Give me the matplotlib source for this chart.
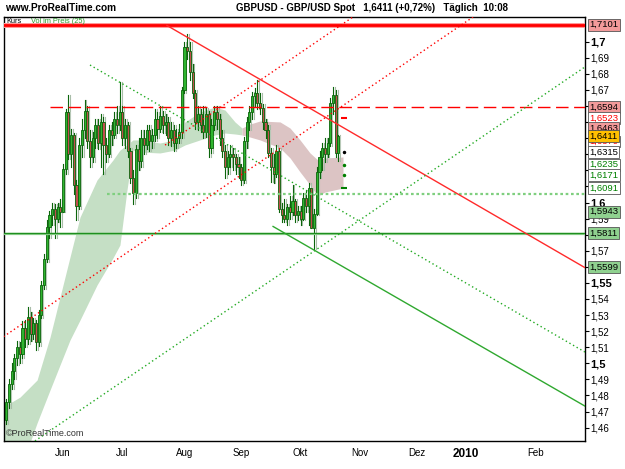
import numpy as np
import pandas as pd
import matplotlib
matplotlib.use('Agg')
import matplotlib.pyplot as plt
from matplotlib.patches import Rectangle

plt.rcParams['font.family'] = ['Liberation Sans', 'DejaVu Sans']

# daily GBPUSD candles, index 0 = 1 May 2009 (business days)
closes = [1.476, 1.487, 1.495, 1.503, 1.510, 1.506, 1.522, 1.515, 1.529, 1.518,
          1.525, 1.513, 1.530, 1.549, 1.565, 1.585, 1.592, 1.596, 1.590, 1.597,
          1.594, 1.621, 1.656, 1.630, 1.642, 1.611, 1.598, 1.636, 1.645, 1.657,
          1.638, 1.628, 1.640, 1.648, 1.637, 1.650, 1.636, 1.630, 1.645, 1.642,
          1.652, 1.648, 1.656, 1.640, 1.648, 1.632, 1.615, 1.606, 1.633, 1.626,
          1.640, 1.636, 1.645, 1.638, 1.642, 1.652, 1.646, 1.654, 1.648, 1.650,
          1.640, 1.645, 1.637, 1.640, 1.644, 1.670, 1.697, 1.694, 1.681, 1.668,
          1.650, 1.655, 1.648, 1.644, 1.655, 1.634, 1.648, 1.656, 1.652, 1.640,
          1.632, 1.622, 1.628, 1.630, 1.628, 1.624, 1.622, 1.614, 1.638, 1.650,
          1.656, 1.666, 1.668, 1.662, 1.659, 1.650, 1.645, 1.631, 1.622, 1.618,
          1.632, 1.596, 1.592, 1.590, 1.597, 1.594, 1.601, 1.592, 1.595, 1.590,
          1.603, 1.598, 1.609, 1.584, 1.593, 1.619, 1.628, 1.634, 1.630, 1.637,
          1.662, 1.667, 1.631, 1.6411]
highs = [1.478, 1.490, 1.500, 1.506, 1.514, 1.513, 1.526, 1.527, 1.535, 1.532,
         1.528, 1.527, 1.533, 1.551, 1.568, 1.589, 1.595, 1.600, 1.599, 1.600,
         1.602, 1.624, 1.658, 1.667, 1.646, 1.643, 1.614, 1.640, 1.652, 1.664,
         1.660, 1.645, 1.644, 1.652, 1.652, 1.655, 1.653, 1.640, 1.648, 1.650,
         1.656, 1.660, 1.675, 1.660, 1.652, 1.650, 1.634, 1.620, 1.636, 1.640,
         1.645, 1.645, 1.648, 1.648, 1.646, 1.658, 1.656, 1.660, 1.657, 1.655,
         1.653, 1.650, 1.648, 1.646, 1.649, 1.672, 1.700, 1.705, 1.700, 1.686,
         1.670, 1.660, 1.658, 1.660, 1.659, 1.657, 1.652, 1.660, 1.660, 1.655,
         1.645, 1.636, 1.632, 1.636, 1.634, 1.630, 1.628, 1.624, 1.641, 1.653,
         1.660, 1.669, 1.671, 1.676, 1.668, 1.661, 1.652, 1.648, 1.634, 1.630,
         1.636, 1.634, 1.600, 1.602, 1.599, 1.604, 1.611, 1.602, 1.598, 1.598,
         1.606, 1.608, 1.612, 1.608, 1.596, 1.622, 1.632, 1.637, 1.640, 1.640,
         1.665, 1.672, 1.670, 1.6420]
lows = [1.462, 1.472, 1.484, 1.490, 1.499, 1.500, 1.503, 1.510, 1.512, 1.514,
        1.515, 1.508, 1.511, 1.528, 1.546, 1.563, 1.578, 1.586, 1.578, 1.588,
        1.585, 1.594, 1.618, 1.627, 1.622, 1.605, 1.589, 1.596, 1.628, 1.640,
        1.634, 1.622, 1.625, 1.634, 1.633, 1.622, 1.618, 1.625, 1.628, 1.636,
        1.640, 1.643, 1.645, 1.636, 1.634, 1.628, 1.612, 1.599, 1.603, 1.620,
        1.622, 1.630, 1.633, 1.632, 1.634, 1.638, 1.640, 1.644, 1.643, 1.642,
        1.636, 1.635, 1.632, 1.634, 1.637, 1.640, 1.668, 1.689, 1.676, 1.665,
        1.646, 1.645, 1.644, 1.640, 1.641, 1.628, 1.631, 1.645, 1.646, 1.636,
        1.628, 1.615, 1.618, 1.622, 1.620, 1.618, 1.615, 1.611, 1.612, 1.634,
        1.645, 1.652, 1.660, 1.658, 1.655, 1.646, 1.640, 1.628, 1.613, 1.612,
        1.616, 1.594, 1.588, 1.588, 1.586, 1.590, 1.592, 1.588, 1.589, 1.586,
        1.589, 1.594, 1.586, 1.584, 1.571, 1.592, 1.615, 1.620, 1.625, 1.628,
        1.635, 1.655, 1.628, 1.626]
first_open = 1.465

# "Vol im Preis (25)" band: index, upper, lower
band_idx = [-1.2, 5.1, 11.4, 16.2, 19.9, 23.6, 27.3, 33.6, 39.5, 42.1, 44.7, 46.9,
            49.5, 56.9, 62.5, 66.2, 71.7, 77.3, 81.0, 84.7, 87.3]
band_top = [1.4728, 1.4790, 1.4896, 1.5163, 1.5412, 1.5661, 1.5909, 1.6140, 1.6264,
            1.6326, 1.6358, 1.6389, 1.6389, 1.6370, 1.6389, 1.6501, 1.6562, 1.6594,
            1.6575, 1.6501, 1.6463]
band_bot = [1.4335, 1.4335, 1.4629, 1.4834, 1.4990, 1.5145, 1.5269, 1.5487, 1.5655,
            1.5736, 1.6078, 1.6326, 1.6314, 1.6308, 1.6326, 1.6358, 1.6389, 1.6420,
            1.6432, 1.6426, 1.6420]
band2_idx = [87.3, 90.3, 94.0, 101.4, 105.1, 108.8, 112.5, 115.4, 118.0, 124.7]
band2_top = [1.6463, 1.6488, 1.6507, 1.6501, 1.6463, 1.6389, 1.6308, 1.6264, 1.6277, 1.6283]
band2_bot = [1.6420, 1.6407, 1.6389, 1.6339, 1.6277, 1.6190, 1.6109, 1.6040, 1.6065, 1.6090]

# trend lines: (x0, y0, x1, y1) in (candle index, price)
red_solid = (59.5, 1.7101, 214.3, 1.5595)
red_dot_low = (-2.3, 1.5151, 172.9, 1.7154)
red_dot_up = (58.8, 1.6357, 128.4, 1.7154)
green_dot_down = (31.0, 1.6855, 214.3, 1.5070)
green_dot_up = (10.6, 1.4517, 214.3, 1.6843)
green_solid_down = (98.8, 1.5851, 214.3, 1.4734)
top_level = 1.7103
dash_level = 1.6594
dot_level = 1.6053
support_level = 1.5811

# right side boxes: text, position, face, text colour
price_boxes = [
    ('1,7101', 1.7101 + 0.0005, '#f29a9a', 'black'),
    ('1,6594', 1.6594, '#f29a9a', 'black'),
    ('1,6523', 1.6523, 'white', 'red'),
    ('1,6379', 1.6379, 'white', 'red'),
    ('1,6463', 1.6463, '#f29a9a', 'black'),
    ('1,6411', 1.6411, '#ffc000', 'black'),
    ('1,6315', 1.6315, 'white', 'black'),
    ('1,6235', 1.6235, 'white', 'green'),
    ('1,6171', 1.6171, 'white', 'green'),
    ('1,6091', 1.6091, 'white', 'green'),
    ('1,5943', 1.5943, '#8fd18f', 'black'),
    ('1,5811', 1.5811, '#8fd18f', 'black'),
    ('1,5599', 1.5599, '#8fd18f', 'black'),
]
pivot_marks = [(1.6523, 'red', '_'), (1.6315, 'black', '.'), (1.6235, 'green', '.'),
               (1.6171, 'green', '.'), (1.6091, 'green', '_')]
# tick labels hidden under the price boxes
hidden_ticks = [1.56, 1.58, 1.61, 1.62, 1.63, 1.64, 1.65, 1.66]

days = pd.bdate_range('2009-05-01', '2010-03-01')
month_names = {6: 'Jun', 7: 'Jul', 8: 'Aug', 9: 'Sep', 10: 'Okt', 11: 'Nov', 12: 'Dez', 1: '2010', 2: 'Feb'}

fig = plt.figure(figsize=(6.25, 4.69), dpi=100)
ax = fig.add_axes([4 / 625, 1 - 441 / 469, 581 / 625, 424 / 469])
ax.set_xlim(-0.85, 214.33)
ax.set_ylim(1.45168, 1.71536)

# band
ax.fill_between(band_idx, band_bot, band_top, color='#c5dfc5', lw=0, zorder=1)
ax.fill_between(band2_idx, band2_bot, band2_top, color='#dcc4c4', lw=0, zorder=1)

# candles
opens = [first_open] + closes[:-1]
for i in range(len(closes)):
    o, c, h, l = opens[i], closes[i], highs[i], lows[i]
    # grey shadow
    ax.plot([i + 0.7, i + 0.7], [l, h], color='#a9bda9', lw=0.8, zorder=2)
    ax.add_patch(Rectangle((i + 0.7 - 0.35, min(o, c)), 0.7, max(abs(c - o), 0.0004),
                           facecolor='#b7c9b7', edgecolor='none', zorder=2))
    ax.plot([i, i], [l, h], color='#0b650b', lw=0.8, zorder=3)
    fc = '#2fb52f' if c >= o else '#c0504d'
    ax.add_patch(Rectangle((i - 0.38, min(o, c)), 0.76, max(abs(c - o), 0.0004),
                           facecolor=fc, edgecolor='#0b650b', lw=0.6, zorder=4))

# levels
ax.axhline(top_level, color='#ff9999', lw=3.6, zorder=5)
ax.axhline(top_level, color='red', lw=2.0, zorder=5)
ax.plot([16.2, 214.33], [dash_level] * 2, color='red', lw=1.0, dashes=(9, 4), zorder=5)
ax.plot([37.3, 214.33], [dot_level] * 2, color='#7fcf7f', lw=1.6, dashes=(1.2, 1.2), zorder=5)
ax.axhline(support_level - 0.0004, color='#9ad69a', lw=1.6, zorder=5)
ax.axhline(support_level, color='#1f8f1f', lw=1.0, zorder=5)

def seg(p, **kw):
    ax.plot([p[0], p[2]], [p[1], p[3]], zorder=5, **kw)

seg(red_solid, color='#ff2a2a', lw=1.0)
seg(red_dot_low, color='red', lw=1.0, dashes=(1, 2))
seg(red_dot_up, color='red', lw=1.0, dashes=(1, 2))
seg(green_dot_down, color='#22aa22', lw=1.0, dashes=(1, 2))
seg(green_dot_up, color='#22aa22', lw=1.0, dashes=(1, 2))
seg(green_solid_down, color='#2fa82f', lw=1.0)

for lev, col, mk in pivot_marks:
    ax.plot([len(closes) + 1], [lev], marker=mk, color=col, ms=5 if mk == '_' else 2,
            mew=1.5, zorder=6)

# axes styling
for s in ax.spines.values():
    s.set_linewidth(1.0)
    s.set_color('black')
ax.yaxis.tick_right()
yt = np.round(np.arange(1.46, 1.7001, 0.01), 2)
ax.set_yticks(yt)
ylabels = []
for v in yt:
    if any(abs(v - h) < 1e-6 for h in hidden_ticks):
        ylabels.append('')
    else:
        ylabels.append(('%.2f' % v).rstrip('0').rstrip('.').replace('.', ','))
ax.set_yticklabels(ylabels)
for lab, v in zip(ax.get_yticklabels(), yt):
    if round(v * 100) % 5 == 0:
        lab.set_fontweight('bold')
        lab.set_fontsize(8)
    else:
        lab.set_fontsize(7)
ax.tick_params(axis='y', length=3, width=0.8, pad=1)

mpos, mlab = [], []
for k, d in enumerate(days):
    if k == 0 or d.month != days[k - 1].month:
        if d.month in month_names and not (d.year == 2009 and d.month in (1, 2)):
            mpos.append(k)
            mlab.append(month_names[d.month])
ax.set_xticks(mpos)
ax.set_xticklabels(mlab, fontsize=7)
for lab in ax.get_xticklabels():
    if lab.get_text() == '2010':
        lab.set_fontweight('bold')
        lab.set_fontsize(8.5)
        lab.set_ha('right')
ax.tick_params(axis='x', length=0, pad=5)

for txt, pos, fc, tc in price_boxes:
    ax.annotate(txt, xy=(1.0, pos), xycoords=('axes fraction', 'data'),
                xytext=(3, 0), textcoords='offset points', va='center', ha='left',
                fontsize=6.8, color=tc, annotation_clip=False,
                bbox=dict(boxstyle='square,pad=0.15', fc=fc, ec='#555555', lw=0.6))

fig.text(5 / 625, 1 - 8 / 469, 'www.ProRealTime.com', fontsize=7.3, fontweight='bold', va='center')
fig.text(236 / 625, 1 - 8 / 469, 'GBPUSD - GBP/USD Spot   1,6411 (+0,72%)   T\u00e4glich  10:08',
         fontsize=7, fontweight='bold', va='center')
fig.text(6 / 625, 1 - 18 / 469, 'Kurs', fontsize=5.3, va='top', zorder=7)
fig.text(31 / 625, 1 - 18 / 469, 'Vol im Preis (25)', fontsize=5.3,
         color='#2a9a2a', va='top', zorder=7)
ax.text(0.004, 0.008, '\u00a9ProRealTime.com', transform=ax.transAxes, fontsize=6.5,
        color='#333333', va='bottom', zorder=7)

fig.savefig('out.png', dpi=100)
